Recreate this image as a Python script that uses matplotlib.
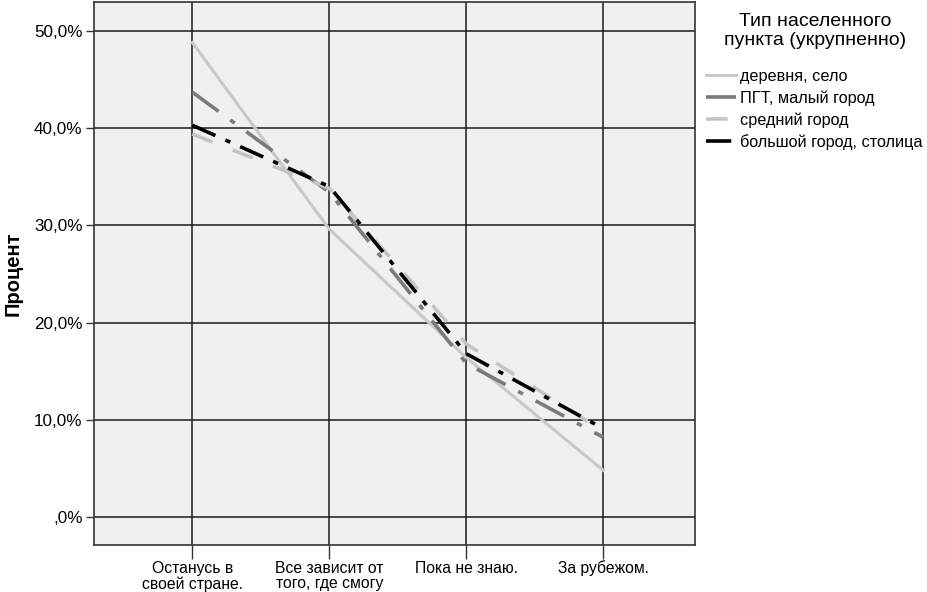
import matplotlib.pyplot as plt

plt.rcParams['font.family'] = ['Liberation Sans', 'DejaVu Sans']

categories = ['Останусь в\nсвоей стране.', 'Все зависит от\nтого, где смогу', 'Пока не знаю.', 'За рубежом.']
village = [48.8, 29.6, 16.4, 4.8]        # деревня, село
small_town = [43.7, 33.4, 15.8, 8.2]     # ПГТ, малый город
mid_city = [39.4, 33.8, 17.8, 8.8]       # средний город
big_city = [40.3, 34.0, 16.8, 9.1]       # большой город, столица
yticks = [0, 10, 20, 30, 40, 50]
ytick_labels = [',0%', '10,0%', '20,0%', '30,0%', '40,0%', '50,0%']

fig = plt.figure(figsize=(9.28, 5.92), dpi=100)
ax = fig.add_axes([0.101, 0.079, 0.648, 0.918])
ax.set_facecolor('#f0f0f0')

x = range(len(categories))
ax.plot(x, village, color='#c8c8c8', lw=2.2, label='деревня, село', zorder=3)
ax.plot(x, small_town, color='#7a7a7a', lw=2.6, dashes=(9, 4, 1.5, 4), label='ПГТ, малый город', zorder=3)
ax.plot(x, mid_city, color='#c4c4c4', lw=2.6, dashes=(6, 6), label='средний город', zorder=3)
ax.plot(x, big_city, color='black', lw=2.6, dashes=(7, 3, 1.5, 3), label='большой город, столица', zorder=4)

ax.set_xlim(-0.72, 3.67)
ax.set_ylim(-2.9, 53)
ax.set_yticks(yticks)
ax.set_yticklabels(ytick_labels, fontsize=12.3)
ax.set_xticks(list(x))
ax.set_xticklabels(categories, fontsize=11.3, linespacing=1.05)
ax.tick_params(axis='x', length=10, width=1, color='#333333', pad=1)
ax.tick_params(axis='y', length=6, width=1, color='#333333', pad=2)
ax.grid(True, color='#1a1a1a', lw=1.1, zorder=1)
for s in ax.spines.values():
    s.set_color('#333333')
    s.set_linewidth(1.2)

ax.set_ylabel('Процент', fontsize=14.5, fontweight='bold', labelpad=8)

fig.text(0.878, 0.978, 'Тип населенного\nпункта (укрупненно)', ha='center', va='top',
         fontsize=14, linespacing=1.15, multialignment='center')
leg = ax.legend(loc='upper left', bbox_to_anchor=(1.013, 0.882), frameon=False, fontsize=11.7,
                handlelength=1.85, handletextpad=0.25, labelspacing=0.38, borderaxespad=0.0,
                borderpad=0.2)

fig.savefig('out.png', dpi=100)
